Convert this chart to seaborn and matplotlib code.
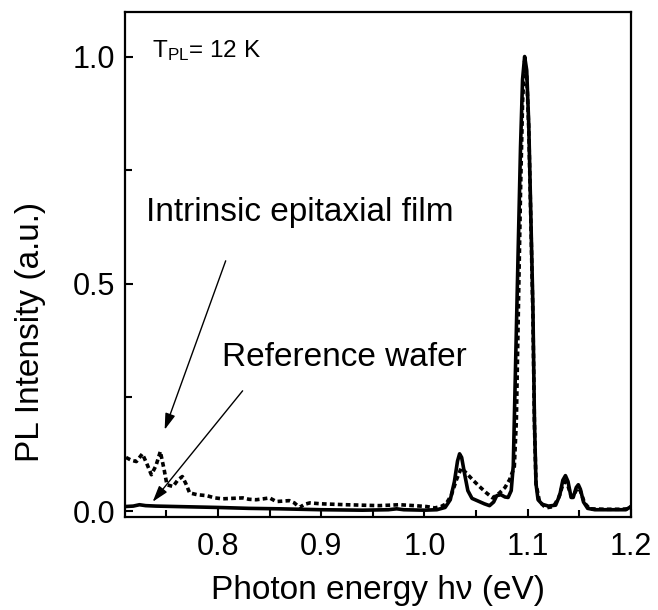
import numpy as np
import pandas as pd
import matplotlib
matplotlib.use("Agg")
import matplotlib.pyplot as plt
import seaborn as sns
from matplotlib.ticker import MultipleLocator

# ---- data ----
ref_energy = [0.710, 0.718, 0.724, 0.730, 0.740, 0.760, 0.780, 0.800, 0.830, 0.860,
              0.900, 0.940, 0.965, 0.973, 0.980, 1.000, 1.012, 1.020, 1.025, 1.029,
              1.032, 1.034, 1.036, 1.039, 1.042, 1.046, 1.052, 1.058, 1.063, 1.067,
              1.070, 1.074, 1.078, 1.081, 1.084, 1.086, 1.087, 1.089, 1.091, 1.093,
              1.095, 1.097, 1.099, 1.101, 1.103, 1.105, 1.1065, 1.108, 1.110, 1.114,
              1.120, 1.127, 1.131, 1.134, 1.1365, 1.139, 1.142, 1.144, 1.147, 1.149,
              1.151, 1.154, 1.158, 1.165, 1.180, 1.195, 1.200]
ref_intensity = [0.010, 0.011, 0.014, 0.012, 0.011, 0.010, 0.009, 0.008, 0.006, 0.005,
                 0.003, 0.002, 0.003, 0.005, 0.003, 0.002, 0.003, 0.008, 0.025, 0.065,
                 0.110, 0.126, 0.118, 0.080, 0.045, 0.028, 0.022, 0.016, 0.012, 0.020,
                 0.034, 0.036, 0.031, 0.030, 0.045, 0.100, 0.200, 0.400, 0.600, 0.800,
                 0.950, 1.000, 0.970, 0.850, 0.650, 0.450, 0.200, 0.060, 0.025, 0.015,
                 0.011, 0.013, 0.035, 0.068, 0.078, 0.065, 0.030, 0.030, 0.052, 0.058,
                 0.048, 0.020, 0.006, 0.003, 0.003, 0.003, 0.010]

epi_energy = [0.711, 0.716, 0.721, 0.7268, 0.731, 0.7355, 0.740, 0.7442, 0.748, 0.7506,
              0.7565, 0.761, 0.7655, 0.769, 0.7726, 0.780, 0.789, 0.797, 0.8046, 0.814,
              0.824, 0.830, 0.837, 0.844, 0.850, 0.8565, 0.863, 0.869, 0.874, 0.879,
              0.884, 0.889, 0.900, 0.912, 0.924, 0.940, 0.956, 0.966, 0.976, 0.990,
              1.002, 1.010, 1.016, 1.021, 1.026, 1.031, 1.0356, 1.0404, 1.047, 1.0533,
              1.060, 1.066, 1.0727, 1.078, 1.0824, 1.087, 1.089, 1.091, 1.093, 1.095,
              1.097, 1.099, 1.101, 1.103, 1.105, 1.1065, 1.108, 1.1114, 1.1175, 1.125,
              1.130, 1.134, 1.1365, 1.139, 1.142, 1.144, 1.147, 1.149, 1.151, 1.155,
              1.160, 1.175, 1.190, 1.197, 1.200]
epi_intensity = [0.118, 0.112, 0.109, 0.126, 0.105, 0.080, 0.100, 0.131, 0.090, 0.058,
                 0.054, 0.068, 0.076, 0.060, 0.040, 0.036, 0.034, 0.029, 0.027, 0.028,
                 0.029, 0.026, 0.025, 0.027, 0.029, 0.021, 0.022, 0.023, 0.018, 0.008,
                 0.015, 0.018, 0.016, 0.015, 0.014, 0.013, 0.012, 0.013, 0.014, 0.012,
                 0.010, 0.007, 0.010, 0.016, 0.035, 0.069, 0.095, 0.084, 0.068, 0.054,
                 0.040, 0.029, 0.040, 0.052, 0.069, 0.097, 0.200, 0.450, 0.700, 0.900,
                 0.990, 0.960, 0.840, 0.640, 0.430, 0.190, 0.060, 0.021, 0.007, 0.010,
                 0.030, 0.058, 0.065, 0.055, 0.034, 0.032, 0.046, 0.051, 0.044, 0.018,
                 0.005, 0.004, 0.004, 0.005, 0.010]

x_ticks = [0.8, 0.9, 1.0, 1.1, 1.2]
y_ticks = [0.0, 0.5, 1.0]
x_label = "Photon energy h\u03bd (eV)"
y_label = "PL Intensity (a.u.)"
label_epi = "Intrinsic epitaxial film"
label_ref = "Reference wafer"
label_temp = r"T$_{\mathregular{PL}}$= 12 K"

# ---- style ----
sns.set_theme(style="ticks")
plt.rcParams["font.family"] = ["Liberation Sans", "DejaVu Sans"]
plt.rcParams["mathtext.fontset"] = "custom"
plt.rcParams["mathtext.rm"] = "Liberation Sans"
plt.rcParams["mathtext.it"] = "Liberation Sans"
plt.rcParams["text.color"] = "black"
plt.rcParams["axes.labelcolor"] = "black"
plt.rcParams["xtick.color"] = "black"
plt.rcParams["ytick.color"] = "black"

fig = plt.figure(figsize=(6.58, 6.10), dpi=100)
ax = fig.add_axes([125 / 658, 93 / 610, 506 / 658, 505 / 610])

df_ref = pd.DataFrame({"E": ref_energy, "I": ref_intensity})
df_epi = pd.DataFrame({"E": epi_energy, "I": epi_intensity})

sns.lineplot(data=df_epi, x="E", y="I", ax=ax, color="black", lw=2.6, sort=False)
line_epi = ax.lines[-1]
sns.lineplot(data=df_ref, x="E", y="I", ax=ax, color="black", lw=2.6, sort=False)
line_ref = ax.lines[-1]

line_epi.set_linestyle((0, (1.3, 0.9)))
line_epi.set_dash_capstyle("butt")
line_ref.set_solid_joinstyle("round")
line_ref.set_solid_capstyle("round")

ax.set_xlim(0.71, 1.2)
ax.set_ylim(-0.013, 1.098)
ax.set_xticks(x_ticks)
ax.set_yticks(y_ticks)
ax.xaxis.set_minor_locator(MultipleLocator(0.05))
ax.yaxis.set_minor_locator(MultipleLocator(0.25))
ax.set_xticklabels([f"{v:.1f}" for v in x_ticks])
ax.set_yticklabels([f"{v:.1f}" for v in y_ticks])

ax.tick_params(which="both", direction="in", width=1.5, colors="black",
               labelsize=22)
ax.tick_params(axis="x", pad=11)
ax.tick_params(axis="y", pad=7)
ax.tick_params(which="major", length=6)
ax.tick_params(which="minor", length=5)
for s in ax.spines.values():
    s.set_visible(True)
    s.set_linewidth(1.6)
    s.set_color("black")

ax.set_xlabel(x_label, fontsize=24)
ax.set_ylabel(y_label, fontsize=24)
ax.xaxis.label.set_verticalalignment("center")
ax.yaxis.label.set_verticalalignment("center")
ax.xaxis.set_label_coords(0.5, (20 - 93) / 505)
ax.yaxis.set_label_coords((30 - 125) / 506, (610 - 332 - 93) / 505)

ax.text(0.7366, 0.999, label_temp, fontsize=17.5, ha="left", va="baseline")
ax.text(0.730, 0.639, label_epi, fontsize=24, ha="left", va="baseline")
ax.text(0.8036, 0.320, label_ref, fontsize=24, ha="left", va="baseline")

arrow_kw = dict(arrowstyle="-|>,head_length=0.7,head_width=0.22", color="black",
                lw=1.0, mutation_scale=14, shrinkA=0, shrinkB=0)
ax.annotate("", xy=(0.7484, 0.179), xytext=(0.8075, 0.5506), arrowprops=arrow_kw)
ax.annotate("", xy=(0.7368, 0.0205), xytext=(0.8239, 0.2646), arrowprops=arrow_kw)

fig.savefig("out.png", dpi=100)
